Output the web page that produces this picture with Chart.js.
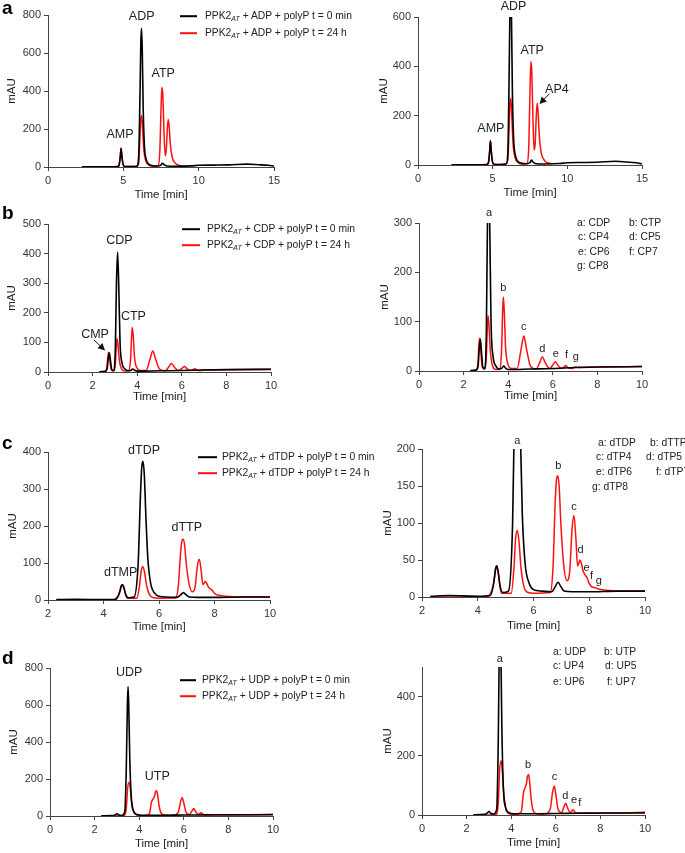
<!DOCTYPE html>
<html>
<head>
<meta charset="utf-8">
<script src="https://cdn.jsdelivr.net/npm/chart.js@4.4.1/dist/chart.umd.min.js"></script>
<style>
    body { margin: 0; background: #fff; width: 685px; height: 853px; position: relative; overflow: hidden;
           font-family: "Liberation Sans", Arial, sans-serif; color: #222; }
    .box { position: absolute; }
    .lbl { position: absolute; font-size: 10.3px; line-height: 12px; white-space: nowrap; transform: translateY(-50%); }
    .swatch { position: absolute; height: 1.6px; transform: translateY(-50%); }
    .tag { position: absolute; font-weight: bold; font-size: 19px; line-height: 20px; transform: translateY(-50%); color: #000; }
    sub { font-size: 68%; font-style: italic; vertical-align: -2px; line-height: 0; }
</style>
</head>
<body>
<script>
// ---- chromatogram data (time [min] / absorbance [mAU]) ----
const adpT0Time = [2.25, 3.0, 4.0, 4.6, 4.72, 4.8, 4.85, 4.9, 4.98, 5.1, 5.5, 5.9, 6.02, 6.1, 6.16, 6.21, 6.26, 6.32, 6.4, 6.5, 6.65, 6.9, 7.3, 7.5, 7.6, 7.7, 7.9, 8.5, 9.5, 10.0, 11.0, 12.0, 13.2, 14.0, 14.6, 15.0];
const adpT0 = [1, 1, 1, 2, 10, 55, 97, 60, 15, 3, 2, 4, 60, 350, 650, 730, 600, 300, 110, 45, 18, 8, 5, 10, 20, 12, 5, 4, 6, 9, 10, 11, 15, 12, 9, 5];
const adp24Time = [2.25, 4.0, 4.6, 4.72, 4.8, 4.85, 4.9, 4.98, 5.1, 5.8, 6.02, 6.1, 6.16, 6.22, 6.28, 6.36, 6.5, 6.7, 7.0, 7.3, 7.42, 7.5, 7.56, 7.62, 7.7, 7.78, 7.85, 7.92, 7.98, 8.04, 8.12, 8.25, 8.45, 8.7, 9.0];
const adp24 = [0, 0, 1, 12, 60, 100, 62, 15, 2, 2, 20, 150, 250, 270, 200, 90, 30, 10, 3, 5, 80, 300, 420, 380, 180, 60, 90, 200, 250, 215, 120, 50, 20, 8, 5];

const cdpT0Time = [2.3, 2.55, 2.65, 2.7, 2.75, 2.8, 2.86, 2.95, 3.02, 3.07, 3.12, 3.17, 3.23, 3.32, 3.45, 3.6, 3.72, 3.8, 3.88, 4.0, 5.0, 6.0, 7.0, 8.0, 10.0];
const cdpT0 = [1, 2, 10, 45, 65, 40, 8, 5, 80, 300, 405, 300, 100, 30, 10, 4, 6, 10, 6, 3, 4, 5, 7, 8, 9];
const cdp24Time = [2.3, 2.55, 2.64, 2.69, 2.72, 2.77, 2.84, 2.95, 3.02, 3.07, 3.1, 3.14, 3.2, 3.3, 3.45, 3.6, 3.7, 3.75, 3.78, 3.82, 3.88, 3.98, 4.15, 4.4, 4.58, 4.7, 4.82, 5.0, 5.25, 5.42, 5.53, 5.65, 5.85, 6.03, 6.12, 6.22, 6.4, 6.5, 6.58, 6.67, 6.85, 6.95, 7.02, 7.15, 8.0, 10.0];
const cdp24 = [0, 1, 15, 55, 67, 40, 8, 3, 30, 95, 112, 90, 40, 10, 3, 3, 40, 120, 150, 125, 50, 15, 5, 5, 45, 71, 45, 10, 4, 18, 29, 18, 5, 14, 19, 12, 5, 8, 11, 7, 5, 7, 8, 7, 8, 9];

const dtdpT0Time = [2.3, 3.0, 4.0, 4.45, 4.58, 4.64, 4.68, 4.73, 4.8, 4.9, 5.1, 5.25, 5.33, 5.38, 5.42, 5.47, 5.53, 5.6, 5.7, 5.85, 6.0, 6.3, 6.65, 6.78, 6.88, 6.98, 7.1, 7.4, 8.0, 9.0, 10.0];
const dtdpT0 = [1, 2, 1, 2, 20, 38, 42, 35, 15, 6, 8, 100, 280, 360, 375, 340, 220, 110, 45, 18, 10, 8, 7, 14, 20, 14, 8, 7, 7, 8, 8];
const dtdp24Time = [2.3, 3.5, 4.3, 4.55, 4.64, 4.68, 4.73, 4.85, 5.2, 5.3, 5.36, 5.42, 5.48, 5.55, 5.65, 5.8, 6.0, 6.6, 6.7, 6.78, 6.83, 6.87, 6.92, 6.98, 7.08, 7.2, 7.3, 7.38, 7.45, 7.52, 7.58, 7.63, 7.67, 7.72, 7.78, 7.85, 7.92, 8.0, 8.08, 8.15, 8.25, 8.4, 8.6, 9.0, 10.0];
const dtdp24 = [0, 0, 0, 15, 38, 41, 33, 5, 5, 40, 80, 90, 75, 40, 15, 6, 5, 6, 40, 130, 160, 164, 150, 100, 45, 22, 35, 90, 110, 80, 42, 46, 50, 45, 35, 30, 26, 18, 14, 13, 12, 10, 9, 8, 8];

const udpT0Time = [2.3, 2.8, 2.92, 3.0, 3.08, 3.2, 3.35, 3.42, 3.47, 3.5, 3.53, 3.58, 3.65, 3.75, 3.9, 4.1, 5.0, 6.0, 7.0, 8.0, 10.0];
const udpT0 = [1, 2, 6, 12, 6, 3, 20, 250, 600, 700, 600, 300, 90, 25, 8, 4, 4, 5, 6, 7, 7];
const udp24Time = [2.3, 3.3, 3.42, 3.48, 3.55, 3.6, 3.66, 3.75, 3.9, 4.2, 4.45, 4.55, 4.62, 4.68, 4.73, 4.78, 4.83, 4.9, 5.0, 5.15, 5.5, 5.75, 5.85, 5.93, 6.0, 6.1, 6.25, 6.38, 6.45, 6.52, 6.65, 6.72, 6.78, 6.85, 6.98, 7.05, 7.15, 7.5, 8.0, 9.0, 10.0];
const udp24 = [0, 1, 40, 150, 183, 150, 80, 25, 5, 2, 10, 75, 92, 105, 130, 137, 110, 50, 12, 4, 3, 20, 75, 98, 70, 20, 8, 30, 40, 25, 8, 14, 18, 10, 6, 8, 6, 6, 6, 7, 9];

// peak labels: [text, time, mAU]
const labelsAL = [['ADP', 6.22, 790], ['ATP', 7.65, 490], ['AMP', 4.78, 169]];
const labelsAR = [['ADP', 6.4, 643], ['ATP', 7.65, 465], ['AP4', 9.3, 306], ['AMP', 4.88, 147]];
const labelsBL = [['CDP', 3.2, 444], ['CTP', 3.83, 187], ['CMP', 2.11, 128]];
const labelsBR = [['a', 3.14, 321], ['b', 3.78, 168], ['c', 4.7, 90], ['d', 5.53, 45], ['e', 6.14, 35], ['f', 6.62, 33], ['g', 7.03, 28]];
const labelsCL = [['dTDP', 5.46, 404], ['dTTP', 7.0, 195], ['dTMP', 4.62, 74]];
const labelsCR = [['a', 5.42, 211], ['b', 6.89, 177], ['c', 7.45, 121], ['d', 7.69, 64], ['e', 7.9, 39], ['f', 8.08, 29], ['g', 8.34, 21]];
const labelsDL = [['UDP', 3.55, 773], ['UTP', 4.81, 212]];
const labelsDR = [['a', 3.49, 527], ['b', 4.76, 168], ['c', 5.94, 128], ['d', 6.43, 63], ['e', 6.82, 50], ['f', 7.07, 42]];

const PAD_T = 22, PAD_R = 14;
const FONT = '"Liberation Sans", Arial, sans-serif';

const pts = (ts, vs) => ts.map((t, i) => ({ x: t, y: vs[i] }));

// draws peak names and arrows in data coordinates
const peakLabels = {
    id: 'peakLabels',
    afterDatasetsDraw(chart, args, opts) {
        const ctx = chart.ctx, xs = chart.scales.x, ys = chart.scales.y;
        ctx.save();
        ctx.fillStyle = '#222';
        ctx.font = opts.size + 'px ' + FONT;
        ctx.textAlign = 'center';
        ctx.textBaseline = 'middle';
        (opts.items || []).forEach(function (it) {
            ctx.fillText(it[0], xs.getPixelForValue(it[1]), ys.getPixelForValue(it[2]));
        });
        (opts.arrows || []).forEach(function (a) {
            const x1 = xs.getPixelForValue(a[0]), y1 = ys.getPixelForValue(a[1]),
                x2 = xs.getPixelForValue(a[2]), y2 = ys.getPixelForValue(a[3]);
            const ang = Math.atan2(y2 - y1, x2 - x1);
            ctx.strokeStyle = '#111';
            ctx.fillStyle = '#111';
            ctx.lineWidth = 1;
            ctx.beginPath();
            ctx.moveTo(x1, y1);
            ctx.lineTo(x2 - 4 * Math.cos(ang), y2 - 4 * Math.sin(ang));
            ctx.stroke();
            ctx.beginPath();
            ctx.moveTo(x2, y2);
            ctx.lineTo(x2 - 7 * Math.cos(ang) + 3.5 * Math.sin(ang), y2 - 7 * Math.sin(ang) - 3.5 * Math.cos(ang));
            ctx.lineTo(x2 - 7 * Math.cos(ang) - 3.5 * Math.sin(ang), y2 - 7 * Math.sin(ang) + 3.5 * Math.cos(ang));
            ctx.closePath();
            ctx.fill();
        });
        ctx.restore();
    }
};

function makePanel(cfg) {
    const W = Math.round(cfg.l - cfg.titleX + 11);
    const left = Math.round(cfg.l) - W;
    const top = Math.round(cfg.t) - PAD_T;
    const width = Math.round(cfg.r - cfg.l) + W + PAD_R;
    const height = Math.round(cfg.b - cfg.t) + PAD_T + cfg.H;

    const div = document.createElement('div');
    div.className = 'box';
    div.style.left = left + 'px';
    div.style.top = top + 'px';
    div.style.width = width + 'px';
    div.style.height = height + 'px';
    const canvas = document.createElement('canvas');
    div.appendChild(canvas);
    document.body.appendChild(div);

    const axisCommon = {
        type: 'linear',
        grid: { drawOnChartArea: false, drawTicks: true, tickLength: 4, color: '#444', lineWidth: 1 },
        border: { display: true, color: '#444', width: 1 },
    };

    new Chart(canvas, {
        type: 'line',
        data: {
            datasets: [{
                label: 't = 0 min',
                data: pts(cfg.t0Time, cfg.t0),
                borderColor: '#000',
                borderWidth: 1.6,
                pointRadius: 0,
                order: 0,
                cubicInterpolationMode: 'monotone'
            }, {
                label: 't = 24 h',
                data: pts(cfg.t24Time, cfg.t24),
                borderColor: '#ff1010',
                borderWidth: 1.5,
                pointRadius: 0,
                order: 1,
                cubicInterpolationMode: 'monotone'
            }]
        },
        options: {
            responsive: true,
            maintainAspectRatio: false,
            animation: false,
            layout: { padding: { top: PAD_T, right: PAD_R, left: 0, bottom: 0 } },
            plugins: {
                legend: { display: false },
                tooltip: { enabled: false },
                peakLabels: { items: cfg.labels, size: cfg.labelSize, arrows: cfg.arrows || [] }
            },
            scales: {
                x: Object.assign({}, axisCommon, {
                    min: cfg.xMin, max: cfg.xMax,
                    afterFit: function (s) { s.height = cfg.H; },
                    ticks: { stepSize: cfg.xStep, color: '#333', font: { family: FONT, size: 11 }, maxRotation: 0, padding: 3 },
                    title: { display: true, text: 'Time [min]', color: '#222', font: { family: FONT, size: 11.5 }, padding: { top: 4, bottom: 4 } }
                }),
                y: Object.assign({}, axisCommon, {
                    min: 0, max: cfg.yMax,
                    afterFit: function (s) { s.width = W; },
                    ticks: { stepSize: cfg.yStep, includeBounds: false, color: '#333', font: { family: FONT, size: 11 }, padding: 3 },
                    title: { display: true, text: 'mAU', color: '#222', font: { family: FONT, size: 11.5 }, padding: { top: 4, bottom: 4 } }
                })
            }
        },
        plugins: [peakLabels]
    });
}

const panels = [
    { l: 48, r: 274, t: 15.3, b: 167, titleX: 12.3, H: 39, xMin: 0, xMax: 15, xStep: 5, yMax: 800, yStep: 200,
      t0Time: adpT0Time, t0: adpT0, t24Time: adp24Time, t24: adp24, labels: labelsAL, labelSize: 12.5 },
    { l: 417.7, r: 641.7, t: 17.3, b: 165.7, titleX: 383.3, H: 39, xMin: 0, xMax: 15, xStep: 5, yMax: 600, yStep: 200,
      t0Time: adpT0Time, t0: adpT0, t24Time: adp24Time, t24: adp24, labels: labelsAR, labelSize: 12.5,
      arrows: [[8.8, 289, 8.13, 247]] },
    { l: 48, r: 271, t: 224, b: 372.3, titleX: 12.5, H: 36, xMin: 0, xMax: 10, xStep: 2, yMax: 500, yStep: 100,
      t0Time: cdpT0Time, t0: cdpT0, t24Time: cdp24Time, t24: cdp24, labels: labelsBL, labelSize: 12.5,
      arrows: [[2.05, 109, 2.56, 73]] },
    { l: 419, r: 642, t: 223.3, b: 371.3, titleX: 385, H: 36, xMin: 0, xMax: 10, xStep: 2, yMax: 300, yStep: 100,
      t0Time: cdpT0Time, t0: cdpT0, t24Time: cdp24Time, t24: cdp24, labels: labelsBR, labelSize: 11 },
    { l: 48, r: 270, t: 451.7, b: 600, titleX: 12.7, H: 38, xMin: 2, xMax: 10, xStep: 2, yMax: 400, yStep: 100,
      t0Time: dtdpT0Time, t0: dtdpT0, t24Time: dtdp24Time, t24: dtdp24, labels: labelsCL, labelSize: 12.5 },
    { l: 422.3, r: 645.3, t: 449, b: 597.3, titleX: 388.3, H: 40, xMin: 2, xMax: 10, xStep: 2, yMax: 200, yStep: 50,
      t0Time: dtdpT0Time, t0: dtdpT0, t24Time: dtdp24Time, t24: dtdp24, labels: labelsCR, labelSize: 11 },
    { l: 50, r: 273.3, t: 668.3, b: 816.7, titleX: 14, H: 39, xMin: 0, xMax: 10, xStep: 2, yMax: 800, yStep: 200,
      t0Time: udpT0Time, t0: udpT0, t24Time: udp24Time, t24: udp24, labels: labelsDL, labelSize: 12.5 },
    { l: 422, r: 645.3, t: 666.5, b: 814.7, titleX: 388.3, H: 39, xMin: 0, xMax: 10, xStep: 2, yMax: 500, yStep: 200,
      t0Time: udpT0Time, t0: udpT0, t24Time: udp24Time, t24: udp24, labels: labelsDR, labelSize: 11 }
];
panels.forEach(makePanel);

// ---- HTML legends and panel letters ----
function addText(cls, x, y, html) {
    const el = document.createElement('div');
    el.className = cls;
    el.style.left = x + 'px';
    el.style.top = y + 'px';
    el.innerHTML = html;
    document.body.appendChild(el);
}
function addSwatch(x1, x2, y, color) {
    const el = document.createElement('div');
    el.className = 'swatch';
    el.style.left = x1 + 'px';
    el.style.width = (x2 - x1) + 'px';
    el.style.top = y + 'px';
    el.style.background = color;
    document.body.appendChild(el);
}

const substrates = ['ADP', 'CDP', 'dTDP', 'UDP'];
const legendSpots = [[180, 197, 205, 16, 33], [182, 200, 207, 229, 245], [198, 217, 222, 457, 473], [180, 196, 202, 680, 696]];
substrates.forEach(function (s, i) {
    const p = legendSpots[i];
    addSwatch(p[0], p[1], p[3], '#000');
    addSwatch(p[0], p[1], p[4], '#ff1010');
    addText('lbl', p[2], p[3], 'PPK2<sub>AT</sub> + ' + s + ' + polyP t = 0 min');
    addText('lbl', p[2], p[4], 'PPK2<sub>AT</sub> + ' + s + ' + polyP t = 24 h');
});

const keyB = [['a: CDP', 577, 223], ['b: CTP', 629, 223], ['c: CP4', 578, 237], ['d: CP5', 629, 237],
              ['e: CP6', 578, 252], ['f: CP7', 629, 252], ['g: CP8', 577, 266]];
const keyC = [['a: dTDP', 598, 443], ['b: dTTP', 650, 443], ['c: dTP4', 596, 457], ['d: dTP5', 646, 457],
              ['e: dTP6', 596, 472], ['f: dTP7', 656, 472], ['g: dTP8', 592, 487]];
const keyD = [['a: UDP', 553, 652], ['b: UTP', 604, 652], ['c: UP4', 553, 666], ['d: UP5', 605, 666],
              ['e: UP6', 553, 682], ['f: UP7', 607, 682]];
keyB.concat(keyC, keyD).forEach(function (k) { addText('lbl', k[1], k[2], k[0]); });

[['a', 8], ['b', 213], ['c', 443], ['d', 658]].forEach(function (t) { addText('tag', 2, t[1], t[0]); });
</script>
</body>
</html>
